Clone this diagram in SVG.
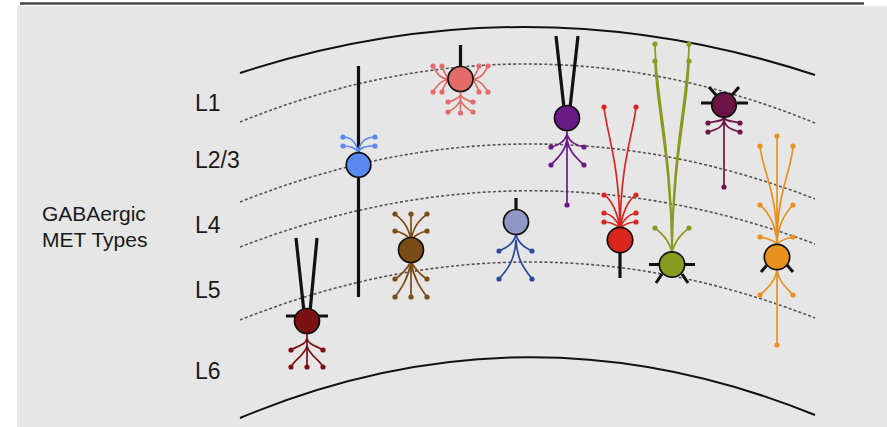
<svg xmlns="http://www.w3.org/2000/svg" width="887" height="427" viewBox="0 0 887 427">
  <style>
    .bound { fill: none; stroke: #111; stroke-width: 2; }
    .div { fill: none; stroke: #555; stroke-width: 1.6; stroke-dasharray: 3 2.2; }
    .lbl { font-family: "Liberation Sans", Arial, sans-serif; font-size: 23px; fill: #1a1a1a; }
    .title { font-family: "Liberation Sans", Arial, sans-serif; font-size: 21px; fill: #1a1a1a; }
    .blk { stroke: #111; stroke-width: 3.2; stroke-linecap: butt; fill: none; }
    .bar { stroke: #111; stroke-width: 3; fill: none; }
    .soma { stroke: #111; stroke-width: 1.7; }
    .proc { fill: none; stroke-width: 1.7; stroke-linecap: round; }
  </style>

  <!-- panel background and top rule -->
  <rect x="17" y="6" width="870" height="421" fill="#e6e6e6"/>
  <line x1="20" y1="3.5" x2="864" y2="3.5" stroke="#444" stroke-width="2.5"/>

  <!-- cortical boundaries -->
  <g id="layers">
    <path class="bound" d="M240,73 Q527,-20 815,75"/>
    <path class="div" d="M240,122 Q527,5.5 815,123"/>
    <path class="div" d="M240,202 Q527,87.5 815,199"/>
    <path class="div" d="M240,247 Q527,136 815,244"/>
    <path class="div" d="M240,320 Q527,205 815,318"/>
    <path class="bound" d="M240,418 Q527,298 815,415"/>
  </g>

  <!-- layer labels -->
  <g id="labels">
    <text class="lbl" x="195" y="111">L1</text>
    <text class="lbl" x="195" y="168">L2/3</text>
    <text class="lbl" x="195" y="233">L4</text>
    <text class="lbl" x="195" y="298">L5</text>
    <text class="lbl" x="195" y="379">L6</text>
    <text class="title" x="42" y="221">GABAergic</text>
    <text class="title" x="42" y="247">MET Types</text>
  </g>

  <!-- neurons -->
  <g id="met-1">
    <line class="blk" x1="296" y1="238" x2="304" y2="312"/>
    <line class="blk" x1="317" y1="238" x2="310" y2="312"/>
    <line class="bar" x1="286" y1="316" x2="328" y2="316"/>
    <path class="proc" stroke="#7b1113" d="M307,332 V367 M307,338 C306,345 297,346 291,350 M307,338 C308,345 317,346 323,350 M307,346 C304,356 295,359 291,367 M307,346 C310,356 319,359 323,367"/>
    <g fill="#7b1113">
      <circle cx="291" cy="350" r="2.6"/><circle cx="323" cy="350" r="2.6"/>
      <circle cx="291" cy="367" r="2.6"/><circle cx="307" cy="367" r="2.6"/><circle cx="323" cy="367" r="2.6"/>
    </g>
    <circle class="soma" cx="307" cy="321" r="12.5" fill="#7b1113"/>
  </g>

  <g id="met-2">
    <line class="blk" x1="358.5" y1="66" x2="358.5" y2="297"/>
    <path class="proc" stroke="#5b87f0" d="M358,152 C356,141 350,137 343,137 M358,152 C360,141 366,137 375,137 M358,152 C355,147 350,146 343,146 M358,152 C361,147 366,146 375,146"/>
    <g fill="#5b87f0">
      <circle cx="343" cy="137" r="2.6"/><circle cx="375" cy="137" r="2.6"/>
      <circle cx="343" cy="146" r="2.6"/><circle cx="375" cy="146" r="2.6"/>
    </g>
    <circle class="soma" cx="358.5" cy="165" r="12.3" fill="#5b87f0"/>
  </g>

  <g id="met-3">
    <path class="proc" stroke="#7c4c17" d="M411,238 V214 M411,240 C408,224 400,218 395,214 M411,240 C414,224 422,218 427,214 M411,240 C406,234 400,232 395,231 M411,240 C416,234 422,232 427,231 M411,262 V297 M411,262 C406,270 400,276 395,279 M411,262 C416,270 422,276 427,279 M411,262 C408,280 400,290 395,297 M411,262 C414,280 422,290 427,297"/>
    <g fill="#7c4c17">
      <circle cx="395" cy="214" r="2.6"/><circle cx="411" cy="214" r="2.6"/><circle cx="427" cy="214" r="2.6"/>
      <circle cx="395" cy="231" r="2.6"/><circle cx="427" cy="231" r="2.6"/>
      <circle cx="395" cy="279" r="2.6"/><circle cx="427" cy="279" r="2.6"/>
      <circle cx="395" cy="297" r="2.6"/><circle cx="411" cy="297" r="2.6"/><circle cx="427" cy="297" r="2.6"/>
    </g>
    <circle class="soma" cx="411" cy="250" r="12.5" fill="#7c4c17"/>
  </g>

  <g id="met-4">
    <line class="blk" x1="460.5" y1="45" x2="460.5" y2="68"/>
    <path class="proc" stroke="#e56b6b" d="M449,79 C442,79 438,76 433,66 M449,79 C445,74 443,70 442,66 M449,79 C442,80 438,84 433,92 M449,79 C445,84 443,88 442,92 M472,79 C479,79 483,76 488,66 M472,79 C476,74 478,70 479,66 M472,79 C479,80 483,84 488,92 M472,79 C476,84 478,88 479,92 M460.5,91 V113 M460.5,95 C457,100 452,101 448,102 M460.5,95 C464,100 469,101 473,102 M460.5,100 C458,106 452,110 448,112 M460.5,100 C463,106 469,110 473,112"/>
    <g fill="#e56b6b">
      <circle cx="433" cy="66" r="2.6"/><circle cx="442" cy="66" r="2.6"/><circle cx="433" cy="92" r="2.6"/><circle cx="442" cy="92" r="2.6"/>
      <circle cx="479" cy="66" r="2.6"/><circle cx="488" cy="66" r="2.6"/><circle cx="479" cy="92" r="2.6"/><circle cx="488" cy="92" r="2.6"/>
      <circle cx="448" cy="102" r="2.6"/><circle cx="473" cy="102" r="2.6"/>
      <circle cx="448" cy="112" r="2.6"/><circle cx="460.5" cy="113" r="2.6"/><circle cx="473" cy="112" r="2.6"/>
    </g>
    <circle class="soma" cx="460.5" cy="79" r="12.5" fill="#e56b6b"/>
  </g>

  <g id="met-5">
    <line class="blk" x1="516" y1="198" x2="516" y2="210"/>
    <path class="proc" stroke="#2c4a9c" d="M516,234 C514,244 506,248 499,251 M516,234 C518,244 526,248 532,251 M516,240 C515,262 505,272 499,279 M516,240 C517,262 527,272 532,279"/>
    <g fill="#2c4a9c">
      <circle cx="499" cy="251" r="2.6"/><circle cx="532" cy="251" r="2.6"/>
      <circle cx="499" cy="279" r="2.6"/><circle cx="532" cy="279" r="2.6"/>
    </g>
    <circle class="soma" cx="516" cy="222" r="12.5" fill="#8e98c4"/>
  </g>

  <g id="met-6">
    <line class="blk" x1="556" y1="36" x2="564" y2="108"/>
    <line class="blk" x1="578" y1="36" x2="570" y2="108"/>
    <path class="proc" stroke="#6a1a86" d="M567,130 V205 M567,134 C565,142 557,146 551,147 M567,134 C569,142 577,146 584,147 M567,140 C565,152 557,158 551,165 M567,140 C569,152 577,158 584,165"/>
    <g fill="#6a1a86">
      <circle cx="551" cy="147" r="2.6"/><circle cx="584" cy="147" r="2.6"/>
      <circle cx="551" cy="165" r="2.6"/><circle cx="584" cy="165" r="2.6"/>
      <circle cx="567" cy="205" r="2.6"/>
    </g>
    <circle class="soma" cx="567" cy="118" r="12.5" fill="#6a1a86"/>
  </g>

  <g id="met-7">
    <line class="blk" x1="620" y1="252" x2="620" y2="278"/>
    <path class="proc" stroke="#d8261f" d="M620,228 C619,160 606,130 604,107 M620,228 C621,160 634,130 636,107 M620,228 C617,210 610,198 604,195 M620,228 C623,210 630,198 636,195 M620,228 C616,218 610,214 604,213 M620,228 C624,218 630,214 636,213 M620,228 C615,224 610,222 604,222 M620,228 C625,224 630,222 636,222"/>
    <g fill="#d8261f">
      <circle cx="604" cy="107" r="2.6"/><circle cx="636" cy="107" r="2.6"/>
      <circle cx="604" cy="195" r="2.6"/><circle cx="636" cy="195" r="2.6"/>
      <circle cx="604" cy="213" r="2.6"/><circle cx="636" cy="213" r="2.6"/>
      <circle cx="604" cy="222" r="2.6"/><circle cx="636" cy="222" r="2.6"/>
    </g>
    <circle class="soma" cx="620" cy="240" r="12.7" fill="#d8261f"/>
  </g>

  <g id="met-8">
    <line class="bar" x1="649" y1="264.5" x2="661" y2="264.5"/>
    <line class="bar" x1="683" y1="264.5" x2="695" y2="264.5"/>
    <line class="bar" x1="662" y1="274" x2="656" y2="283"/>
    <line class="bar" x1="682" y1="274" x2="688" y2="283"/>
    <path class="proc" stroke="#8a991f" stroke-width="1.5" d="M672,252 C672,150 655,90 655,44 M672,252 C672,150 689,90 689,44 M672,252 C671,160 656,105 655,61 M672,252 C673,160 688,105 689,61 M672,252 C668,238 660,232 655,228 M672,252 C676,238 684,232 689,228"/>
    <g fill="#8a991f">
      <circle cx="655" cy="44" r="2.6"/><circle cx="689" cy="44" r="2.6"/>
      <circle cx="655" cy="61" r="2.6"/><circle cx="689" cy="61" r="2.6"/>
      <circle cx="655" cy="228" r="2.6"/><circle cx="689" cy="228" r="2.6"/>
    </g>
    <circle class="soma" cx="672" cy="264.5" r="12.7" fill="#8a991f"/>
  </g>

  <g id="met-9">
    <line class="bar" x1="701" y1="103" x2="712" y2="103"/>
    <line class="bar" x1="737" y1="103" x2="748" y2="103"/>
    <line class="bar" x1="716" y1="95" x2="709" y2="87"/>
    <line class="bar" x1="732" y1="95" x2="739" y2="87"/>
    <path class="proc" stroke="#6c1445" d="M724,117 V187 M724,117 C723,122 714,121 708,123 M724,117 C725,122 734,121 740,123 M724,120 C722,129 714,130 708,132 M724,120 C726,129 734,130 740,132"/>
    <g fill="#6c1445">
      <circle cx="708" cy="123" r="2.6"/><circle cx="740" cy="123" r="2.6"/>
      <circle cx="708" cy="132" r="2.6"/><circle cx="740" cy="132" r="2.6"/>
      <circle cx="724" cy="187" r="2.6"/>
    </g>
    <circle class="soma" cx="724" cy="105" r="12.3" fill="#6c1445"/>
  </g>

  <g id="met-10">
    <line class="bar" x1="767" y1="265" x2="761" y2="272"/>
    <line class="bar" x1="787" y1="265" x2="793" y2="272"/>
    <path class="proc" stroke="#e8911f" d="M777,136 V345 M777,244 C777,190 762,170 760,146 M777,244 C777,190 792,170 793,146 M777,244 C776,222 766,210 760,205 M777,244 C778,222 788,210 793,205 M777,244 C773,240 766,238 760,237 M777,244 C781,240 788,238 793,237 M777,269 C776,282 765,290 760,295 M777,269 C778,282 789,290 793,295"/>
    <g fill="#e8911f">
      <circle cx="777" cy="136" r="2.6"/>
      <circle cx="760" cy="146" r="2.6"/><circle cx="793" cy="146" r="2.6"/>
      <circle cx="760" cy="205" r="2.6"/><circle cx="793" cy="205" r="2.6"/>
      <circle cx="760" cy="237" r="2.6"/><circle cx="793" cy="237" r="2.6"/>
      <circle cx="760" cy="295" r="2.6"/><circle cx="793" cy="295" r="2.6"/>
      <circle cx="777" cy="345" r="2.6"/>
    </g>
    <circle class="soma" cx="777" cy="257" r="12.7" fill="#e8911f"/>
  </g>
</svg>
